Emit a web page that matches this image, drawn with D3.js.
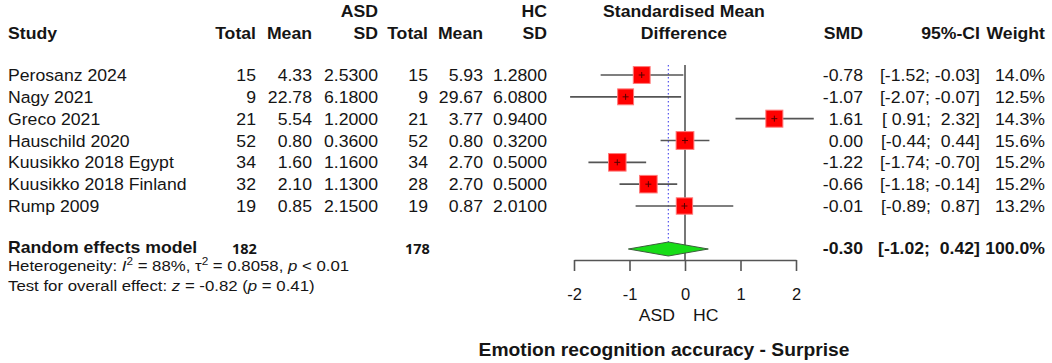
<!DOCTYPE html>
<html>
<head>
<meta charset="utf-8">
<script src="https://cdn.jsdelivr.net/npm/d3@7"></script>
<style>
  body { margin: 0; background: #fff; }
  svg text { font-family: "Liberation Sans", Arial, sans-serif; fill: #151515; white-space: pre; }
</style>
</head>
<body>
<div id="forest"></div>
<script>
// data
const studies = ["Perosanz 2024", "Nagy 2021", "Greco 2021", "Hauschild 2020",
  "Kuusikko 2018 Egypt", "Kuusikko 2018 Finland", "Rump 2009"]
const asdTotal = [15, 9, 21, 52, 34, 32, 19]
const asdMean = [4.33, 22.78, 5.54, 0.80, 1.60, 2.10, 0.85]
const asdSD = [2.53, 6.18, 1.20, 0.36, 1.16, 1.13, 2.15]
const hcTotal = [15, 9, 21, 52, 34, 28, 19]
const hcMean = [5.93, 29.67, 3.77, 0.80, 2.70, 2.70, 0.87]
const hcSD = [1.28, 6.08, 0.94, 0.32, 0.50, 0.50, 2.01]
const smd = [-0.78, -1.07, 1.61, 0.00, -1.22, -0.66, -0.01]
const ciLow = [-1.52, -2.07, 0.91, -0.44, -1.74, -1.18, -0.89]
const ciHigh = [-0.03, -0.07, 2.32, 0.44, -0.70, -0.14, 0.87]
const weight = [14.0, 12.5, 14.3, 15.6, 15.2, 15.2, 13.2]
const pooled = { smd: -0.30, low: -1.02, high: 0.42, weight: 100.0, asdN: 182, hcN: 178 }
const axisTicks = [-2, -1, 0, 1, 2]

const W = 1052, H = 363
const FS = 16.5, SX = 1.07   // text in the picture is a bit wide

const svg = d3.select("#forest").append("svg")
  .attr("width", W).attr("height", H)

// text helper: right/left/center anchored, slightly stretched horizontally
function txt(x, y, s, opt = {}) {
  const t = svg.append("text")
    .attr("transform", `translate(${x},${y}) scale(${opt.sx || SX},1)`)
    .attr("text-anchor", opt.anchor || "start")
    .attr("font-size", opt.size || FS)
    .attr("font-weight", opt.bold ? "bold" : null)
    .text(s)
  if (opt.family) t.style("font-family", opt.family)
  return t
}

// plain hyphen minus like the R output
const fmt = n => v => (+v).toFixed(n)
const f1 = fmt(1), f2 = fmt(2), f4 = fmt(4)
const pad = v => { const s = f2(v); return s[0] === "-" ? s : " " + s }
const ciStr = (lo, hi) => "[" + pad(lo) + "; " + pad(hi) + "]"

// scales
const x = d3.scaleLinear().domain([-2, 2]).range([574, 796])
const y = d3.scalePoint().domain(studies).range([75, 206])
const yPooled = 249
const side = d3.scaleSqrt().domain([0, 100]).range([0, 45])

// column right edges
const col = { study: 8, aT: 256, aM: 312, aS: 378, hT: 428, hM: 483, hS: 547, mid: 684, smd: 863, ci: 980, w: 1045 }

// headers
txt(col.aS, 17, "ASD", { anchor: "end", bold: true })
txt(col.hS, 17, "HC", { anchor: "end", bold: true })
txt(col.mid, 17, "Standardised Mean", { anchor: "middle", bold: true })
txt(col.study, 39, "Study", { bold: true })
txt(col.aT, 39, "Total", { anchor: "end", bold: true })
txt(col.aM, 39, "Mean", { anchor: "end", bold: true })
txt(col.aS, 39, "SD", { anchor: "end", bold: true })
txt(col.hT, 39, "Total", { anchor: "end", bold: true })
txt(col.hM, 39, "Mean", { anchor: "end", bold: true })
txt(col.hS, 39, "SD", { anchor: "end", bold: true })
txt(col.mid, 39, "Difference", { anchor: "middle", bold: true })
txt(col.smd, 39, "SMD", { anchor: "end", bold: true })
txt(col.ci, 39, "95%-CI", { anchor: "end", bold: true })
txt(col.w, 39, "Weight", { anchor: "end", bold: true })

// study rows
studies.forEach((s, i) => {
  const yb = y(s) + 6
  txt(col.study, yb, s)
  txt(col.aT, yb, asdTotal[i], { anchor: "end" })
  txt(col.aM, yb, f2(asdMean[i]), { anchor: "end" })
  txt(col.aS, yb, f4(asdSD[i]), { anchor: "end" })
  txt(col.hT, yb, hcTotal[i], { anchor: "end" })
  txt(col.hM, yb, f2(hcMean[i]), { anchor: "end" })
  txt(col.hS, yb, f4(hcSD[i]), { anchor: "end" })
  txt(col.smd, yb, f2(smd[i]), { anchor: "end" })
  txt(col.ci, yb, ciStr(ciLow[i], ciHigh[i]), { anchor: "end" })
  txt(col.w, yb, f1(weight[i]) + "%", { anchor: "end" })
})

// pooled row
txt(col.study, yPooled + 4, "Random effects model", { bold: true })
txt(232, yPooled + 5, pooled.asdN, { bold: true, size: 14.5, sx: 1, family: "'Open Sans', sans-serif" })
txt(405, yPooled + 5, pooled.hcN, { bold: true, size: 14.5, sx: 1, family: "'Open Sans', sans-serif" })
txt(col.smd, yPooled + 5, f2(pooled.smd), { anchor: "end", bold: true })
txt(col.ci, yPooled + 5, ciStr(pooled.low, pooled.high), { anchor: "end", bold: true })
txt(col.w, yPooled + 5, f1(pooled.weight) + "%", { anchor: "end", bold: true })

// heterogeneity lines
const het = txt(col.study, 271, "Heterogeneity: ", { size: 15, sx: 1.12 })
het.append("tspan").style("font-style", "italic").text("I")
het.append("tspan").attr("baseline-shift", "super").attr("font-size", 10.5).text("2")
het.append("tspan").text(" = 88%, τ")
het.append("tspan").attr("baseline-shift", "super").attr("font-size", 10.5).text("2")
het.append("tspan").text(" = 0.8058, ")
het.append("tspan").style("font-style", "italic").text("p")
het.append("tspan").text(" < 0.01")

const tst = txt(col.study, 291, "Test for overall effect: ", { size: 15, sx: 1.12 })
tst.append("tspan").style("font-style", "italic").text("z")
tst.append("tspan").text(" = -0.82 (")
tst.append("tspan").style("font-style", "italic").text("p")
tst.append("tspan").text(" = 0.41)")

// reference lines
svg.append("line")
  .attr("x1", x(0)).attr("x2", x(0)).attr("y1", 65).attr("y2", 260)
  .attr("stroke", "#555").attr("stroke-width", 1.6)
svg.append("line")
  .attr("x1", x(pooled.smd)).attr("x2", x(pooled.smd)).attr("y1", 65).attr("y2", yPooled - 7)
  .attr("stroke", "#5555ee").attr("stroke-width", 1.2).attr("stroke-dasharray", "1.5,2.5")

// confidence intervals
const rows = studies.map((s, i) => ({ s, m: smd[i], lo: ciLow[i], hi: ciHigh[i], w: weight[i] }))
svg.selectAll(".ci").data(rows).join("line")
  .attr("x1", d => x(d.lo)).attr("x2", d => x(d.hi))
  .attr("y1", d => y(d.s)).attr("y2", d => y(d.s))
  .attr("stroke", "#555").attr("stroke-width", 1.6)

// weight squares (area ~ weight)
svg.selectAll(".sq").data(rows).join("rect")
  .attr("x", d => x(d.m) - side(d.w) / 2)
  .attr("y", d => y(d.s) - side(d.w) / 2)
  .attr("width", d => side(d.w))
  .attr("height", d => side(d.w))
  .attr("fill", "#ff0000").attr("stroke", "#ff7a7a").attr("stroke-width", 1)

// centre marks
svg.selectAll(".pt").data(rows).join("path")
  .attr("d", d => `M${x(d.m) - 3},${y(d.s)}h6M${x(d.m)},${y(d.s) - 3}v6`)
  .attr("stroke", "#550000").attr("stroke-width", 1)

// pooled diamond
svg.append("path")
  .attr("d", `M${x(pooled.low)},${yPooled}L${x(pooled.smd)},${yPooled - 7}L${x(pooled.high)},${yPooled}L${x(pooled.smd)},${yPooled + 7}Z`)
  .attr("fill", "#17dd17").attr("stroke", "#3c5f3c").attr("stroke-width", 1)

// axis
const ax = svg.append("g").attr("transform", "translate(0,260)")
  .call(d3.axisBottom(x).tickValues(axisTicks).tickSize(11).tickSizeOuter(0).tickPadding(17).tickFormat(d => String(d)))
ax.select(".domain").attr("stroke", "#555").attr("stroke-width", 1.6)
ax.selectAll(".tick line").attr("stroke", "#555").attr("stroke-width", 1.6)
ax.selectAll(".tick text").attr("font-size", FS).attr("fill", "#151515")
  .style("font-family", "'Liberation Sans', Arial, sans-serif")

txt(x(0) - 10, 321, "ASD", { anchor: "end" })
txt(x(0) + 8, 321, "HC")

// title
txt(664, 356, "Emotion recognition accuracy - Surprise", { anchor: "middle", bold: true, size: 17.5, sx: 1.1 })
</script>
</body>
</html>
